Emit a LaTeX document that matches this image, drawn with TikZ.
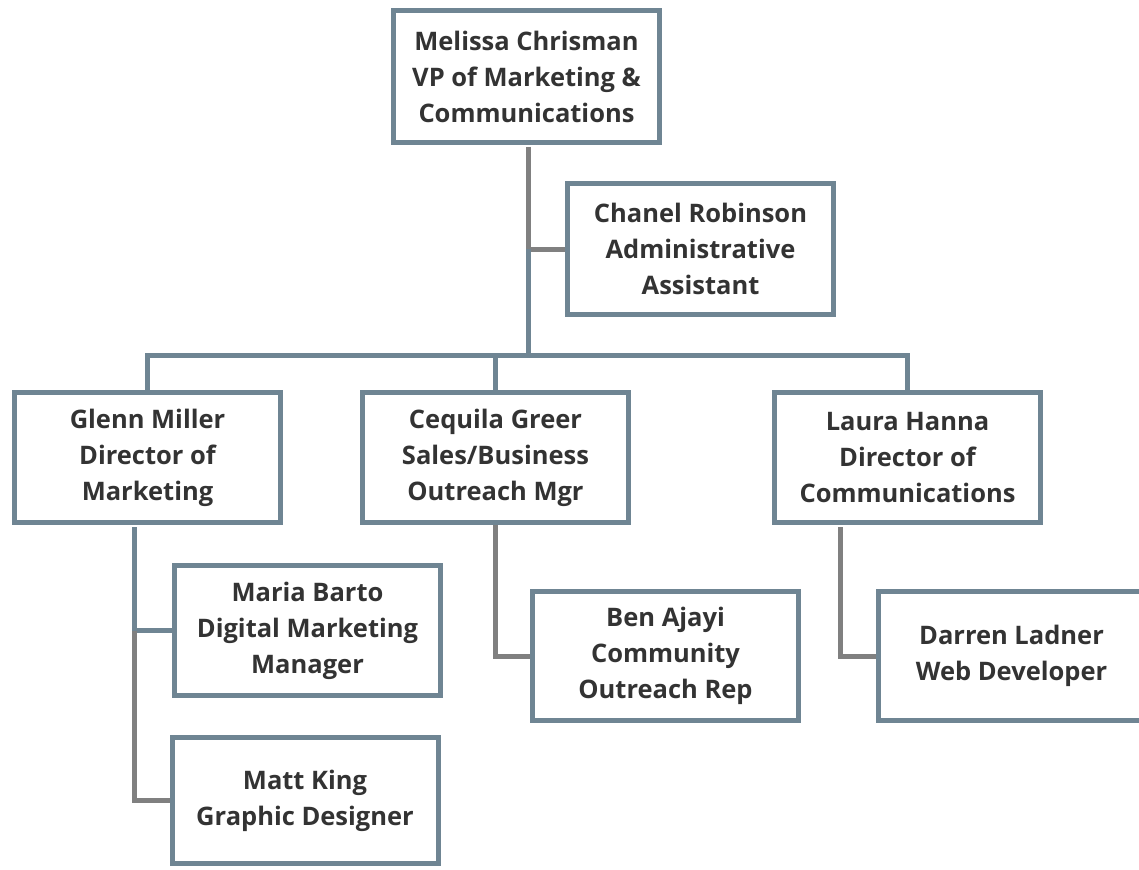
\documentclass[tikz,border=0pt]{standalone}
\usepackage{fontspec}
\setmainfont{Open Sans}
\definecolor{boxline}{HTML}{6F8593}
\definecolor{linkgray}{HTML}{808080}
\definecolor{textgray}{HTML}{333333}

\begin{document}
\begin{tikzpicture}[x=1pt,y=-1pt,
namebox/.style={rectangle, draw=boxline, fill=white, line width=5pt, minimum width=266pt, minimum height=131pt, align=center, text=textgray, font=\fontsize{25.5}{36}\selectfont\bfseries, inner sep=0pt},
blueline/.style={draw=boxline, line width=5pt},
grayline/.style={draw=linkgray, line width=5pt}
]
        \useasboundingbox (0,0) rectangle (1139,869);

        \node [namebox,minimum height=132pt] (vp) at (526.5, 76.5) {Melissa Chrisman\\VP of Marketing \&\\Communications};
        \node [namebox] (chanel) at (700.5, 249) {Chanel Robinson\\Administrative\\Assistant};

        \node [namebox,minimum height=130pt] (glenn) at (147.5, 457.5) {Glenn Miller\\Director of\\Marketing};
        \node [namebox,minimum height=130pt] (cequila) at (495.5, 457.5) {Cequila Greer\\Sales/Business\\Outreach Mgr};
        \node [namebox,minimum height=130pt] (laura) at (907.5, 457.5) {Laura Hanna\\Director of\\Communications};

        \node [namebox,minimum height=130pt] (maria) at (307.5, 630.5) {Maria Barto\\Digital Marketing\\Manager};
        \node [namebox,minimum height=126pt] (matt) at (305, 800.5) {Matt King\\Graphic Designer};
        \node [namebox,minimum height=129pt] (ben) at (665.5, 656) {Ben Ajayi\\Community\\Outreach Rep};
        \node [namebox,minimum height=129pt] (darren) at (1011.5, 656) {Darren Ladner\\Web Developer};

        \coordinate (top) at (528, 147);
        \coordinate (bar) at (528, 355);
        \coordinate (glennsub) at (134, 527);
        \coordinate (laurasub) at (840, 527);

        \draw [grayline] (top) -- (top |- chanel.west) -- (chanel.west);
        \draw [blueline] (top |- chanel.west) -- (bar);
        \draw [blueline] (glenn.north) -- (glenn.north |- bar) -- (laura.north |- bar) -- (laura.north);
        \draw [blueline] (cequila.north |- bar) -- (cequila.north);

        \draw [blueline] (glennsub) -- (glennsub |- maria.west) -- (maria.west);
        \draw [grayline] (glennsub |- maria.west) -- (glennsub |- matt.west) -- (matt.west);
        \draw [grayline] (cequila.south) -- (cequila.south |- ben.west) -- (ben.west);
        \draw [grayline] (laurasub) -- (laurasub |- darren.west) -- (darren.west);

\end{tikzpicture}
\end{document}
